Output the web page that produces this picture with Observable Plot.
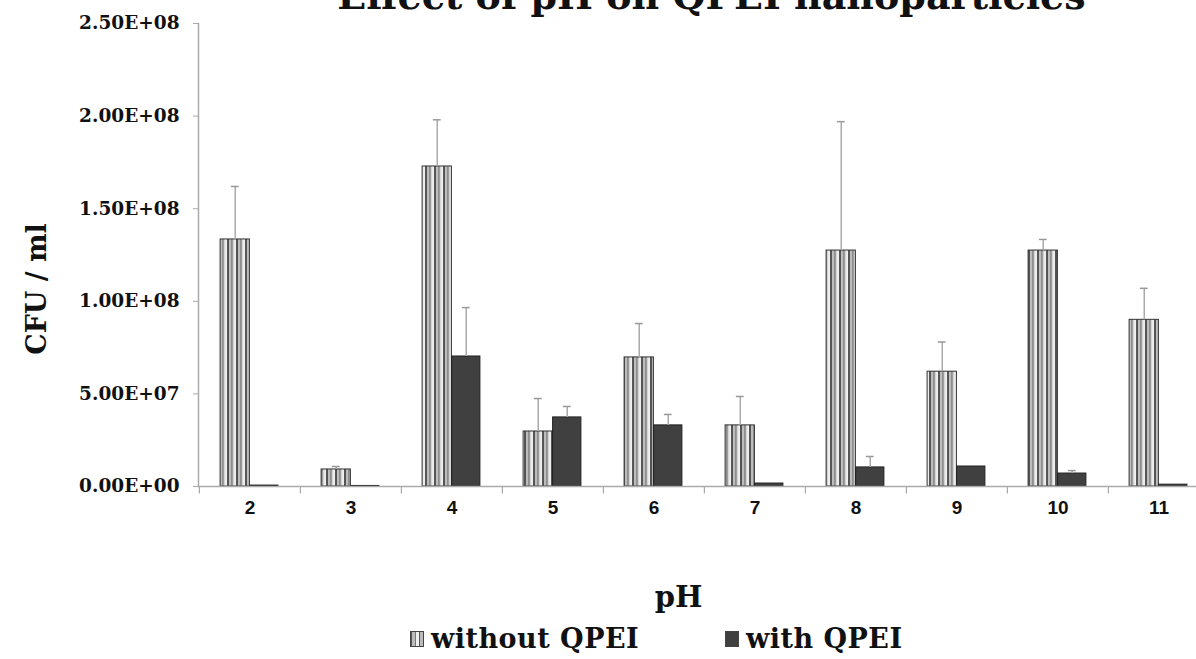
<!DOCTYPE html>
<html><head><meta charset="utf-8">
<script src="https://cdn.jsdelivr.net/npm/d3@7"></script>
<script src="https://cdn.jsdelivr.net/npm/@observablehq/plot@0.6"></script>
<style>
body{margin:0;background:#fff;width:1196px;height:659px;overflow:hidden;}
#chart svg{display:block;}
#legend{position:relative;height:44px;font-family:"DejaVu Serif",serif;font-weight:bold;font-size:27px;color:#111;}
.item{position:absolute;top:8px;white-space:nowrap;display:flex;align-items:center;letter-spacing:0.5px;}
.sw{width:14px;height:16px;border:1px solid #444;margin-right:7px;box-sizing:border-box;}
.sw.a{background:repeating-linear-gradient(90deg,#555 0 1.5px,#bbb 1.5px 4px,#777 4px 5.5px,#eee 5.5px 8px);}
.sw.b{background:#404040;}
</style></head>
<body><div id="chart"></div><div id="legend"></div>
<script>
// ---- data ----
const pH = ["2","3","4","5","6","7","8","9","10","11"];
const withoutQPEI = [1.334e8, 9.2e6, 1.728e8, 2.97e7, 6.97e7, 3.3e7, 1.274e8, 6.2e7, 1.274e8, 9.0e7];
const withoutSD   = [2.86e7, 1.6e6, 2.52e7, 1.78e7, 1.83e7, 1.56e7, 6.96e7, 1.6e7, 6.0e6, 1.7e7];
const withQPEI    = [5e5, 3e5, 7.02e7, 3.73e7, 3.3e7, 1.6e6, 1.03e7, 1.08e7, 7.0e6, 1.0e6];
const withSD      = [0, 0, 2.64e7, 5.9e6, 5.9e6, 0, 5.9e6, 0, 1.6e6, 0];
const yTicks = [0, 5e7, 1e8, 1.5e8, 2e8, 2.5e8];
const yTickLabels = ["0.00E+00","5.00E+07","1.00E+08","1.50E+08","2.00E+08","2.50E+08"];
const seriesNames = ["without QPEI", "with QPEI"];
const titleText = "Effect of pH on QPEI nanoparticles";
const xLabel = "pH";
const yLabel = "CFU / ml";

const rowsA = pH.map((p,i)=>({pH:p, v:withoutQPEI[i], sd:withoutSD[i]}));
const rowsB = pH.map((p,i)=>({pH:p, v:withQPEI[i], sd:withSD[i]}));

const W = 1196, H = 615;
const x0 = 198, x1 = 1210, yTop = 23, yBot = 486;
const bw = (x1 - x0) / pH.length;
const half = bw / 2;
const barW = 29.5;

const serif = "DejaVu Serif, serif";
const sans = "Liberation Sans Narrow, Liberation Sans, Arial, sans-serif";

const chart = Plot.plot({
  width: W, height: H,
  marginLeft: x0, marginRight: W - x1, marginTop: yTop, marginBottom: H - yBot,
  x: {type: "band", domain: pH, range: [x0, x1], padding: 0},
  y: {domain: [0, 2.5e8], range: [yBot, yTop]},
  style: {background: "#fff", overflow: "visible"},
  marks: [
    Plot.barY(rowsA, {x: "pH", y: "v", fill: "url(#stripes)", stroke: "#333", strokeWidth: 1,
      insetLeft: half - barW, insetRight: half}),
    Plot.barY(rowsB, {x: "pH", y: "v", fill: "#404040", stroke: "#222", strokeWidth: 1,
      insetLeft: half, insetRight: half - barW + 1}),
    // error bars
    Plot.ruleX(rowsA.filter(d=>d.sd>0), {x: "pH", y1: "v", y2: d=>d.v+d.sd, dx: -barW/2, stroke: "#aaa", strokeWidth: 1.5}),
    Plot.tickY(rowsA.filter(d=>d.sd>0), {x: "pH", y: d=>d.v+d.sd, stroke: "#999", strokeWidth: 1.5,
      insetLeft: half - barW/2 - 4, insetRight: half + barW/2 - 4}),
    Plot.ruleX(rowsB.filter(d=>d.sd>0), {x: "pH", y1: "v", y2: d=>d.v+d.sd, dx: (barW-1)/2, stroke: "#aaa", strokeWidth: 1.5}),
    Plot.tickY(rowsB.filter(d=>d.sd>0), {x: "pH", y: d=>d.v+d.sd, stroke: "#999", strokeWidth: 1.5,
      insetLeft: half + (barW-1)/2 - 4, insetRight: half - (barW-1)/2 - 4}),
    // axes lines
    Plot.ruleY([0], {stroke: "#aaa", strokeWidth: 1.5}),
    Plot.frame({anchor: "left", stroke: "#aaa", strokeWidth: 1.5}),
    // x boundary ticks
    Plot.ruleX(pH, {x: d=>d, y1: 0, y2: -4e6, dx: -half, stroke: "#aaa", strokeWidth: 1.2}),
    Plot.axisX({tickSize: 0, tickPadding: 14, label: null, fontSize: 19, fontWeight: "bold",
      fontFamily: sans, fill: "#111"}),
    Plot.axisY({ticks: yTicks, tickFormat: (d)=>yTickLabels[yTicks.indexOf(d)], tickSize: 5, tickPadding: 14,
      stroke: "#aaa", fill: "#111", label: null, fontSize: 18.5, fontWeight: "bold", fontFamily: serif}),
    Plot.text([yLabel], {frameAnchor: "left", textAnchor: "middle", rotate: -90, dx: -161, dy: 34, fontSize: 27,
      fontWeight: "bold", fontFamily: serif, fill: "#111"}),
    Plot.text([xLabel], {frameAnchor: "bottom", dy: 120, dx: -26, fontSize: 29,
      fontWeight: "bold", fontFamily: serif, fill: "#111"}),
    Plot.text([titleText], {frameAnchor: "top", dy: -41, dx: 7, fontSize: 38,
      fontWeight: "bold", fontFamily: serif, fill: "#111"})
  ]
});

// stripe pattern
const ns = "http://www.w3.org/2000/svg";
const defs = document.createElementNS(ns, "defs");
const pat = document.createElementNS(ns, "pattern");
pat.setAttribute("id", "stripes");
pat.setAttribute("patternUnits", "userSpaceOnUse");
pat.setAttribute("width", "9");
pat.setAttribute("height", "10");
pat.setAttribute("x", "2");
[["#f0f0f0",0,9],["#555",0,2],["#bdbdbd",2,2.2],["#777",4.2,1.6],["#d4d4d4",5.8,1.4]].forEach(([c,x,w])=>{
  const r = document.createElementNS(ns, "rect");
  r.setAttribute("x", x); r.setAttribute("y", 0); r.setAttribute("width", w); r.setAttribute("height", 10);
  r.setAttribute("fill", c); pat.appendChild(r);
});
defs.appendChild(pat);
chart.insertBefore(defs, chart.firstChild);
chart.style.overflow = "hidden";
document.getElementById("chart").appendChild(chart);

// legend
const lg = document.getElementById("legend");
[[seriesNames[0],"a",410],[seriesNames[1],"b",725]].forEach(([t,c,l])=>{
  const it = document.createElement("div");
  it.className = "item"; it.style.left = l + "px";
  const sw = document.createElement("div"); sw.className = "sw " + c;
  const tx = document.createElement("span"); tx.textContent = t;
  it.appendChild(sw); it.appendChild(tx); lg.appendChild(it);
});
</script>
</body></html>
